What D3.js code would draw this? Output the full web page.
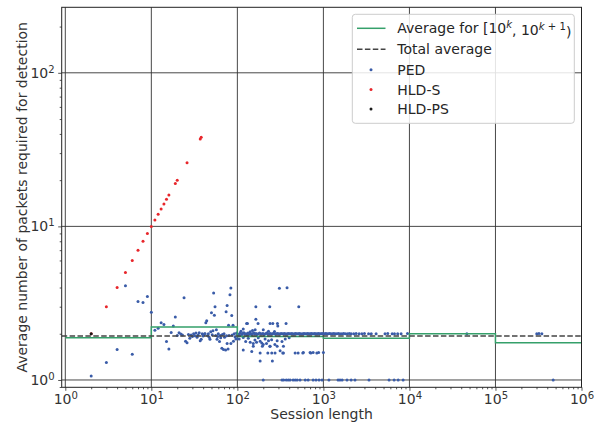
<!DOCTYPE html>
<html>
<head>
<meta charset="utf-8">
<script src="https://cdn.jsdelivr.net/npm/d3@7"></script>
<style>
  body { margin: 0; background: #fff; }
  text { font-family: "DejaVu Sans", sans-serif; }
</style>
</head>
<body>
<div id="chart"></div>
<script>
// averages per decade [10^k, 10^(k+1))
var decadeEdges = [1, 10, 100, 1000, 1e4, 1e5, 1e6];
var decadeAverages = [1.88, 2.21, 1.92, 1.87, 2.0, 1.75];
var totalAverage = 1.93;

var xTicks = [1, 10, 100, 1000, 1e4, 1e5, 1e6];
var yTicks = [1, 10, 100];

var hldsPoints = [[2, 2], [3, 3], [4, 4], [5, 5], [6, 6], [7, 7], [8, 8], [9, 9], [10, 10], [11, 11],
  [12, 12], [13, 13], [14, 14], [15, 15], [16, 16], [19, 19], [20, 20], [26, 26], [37, 37], [38, 38]];

var hldpsPoints = [[2, 2]];

var pedPoints = [
  // short sessions
  [2, 1.06], [3, 1.30], [4, 1.58], [5, 4.11], [6, 1.47], [7, 3.24], [8, 3.2], [9, 3.5], [10, 2.76],
  [11, 2.11], [12, 2.17], [13, 2.36], [14, 2.30], [15, 1.78], [16, 1.59], [17, 2.04], [18, 2.25],
  [19, 2.57], [20, 1.95], [21, 2.03], [22, 1.99], [23, 1.96], [24, 3.43], [25, 1.79], [26, 1.75],
  [27, 1.98], [28, 1.87], [29, 1.96], [30, 1.92], [31, 2.0], [32, 1.94], [33, 2.02], [34, 1.9],
  [35, 1.96], [36, 2.03], [37, 1.8], [38, 1.84], [39, 2.0], [40, 1.93], [41, 1.98], [42, 2.01],
  [43, 2.36], [44, 2.43], [45, 1.95], [46, 2.0], [47, 1.9], [48, 1.84], [49, 2.06], [50, 2.74],
  [51, 1.97], [52, 2.09], [53, 3.69], [54, 2.64], [55, 3.0], [56, 1.95], [57, 2.12], [58, 1.84],
  [59, 1.92], [60, 2.0], [62, 1.78], [63, 1.95], [64, 1.88], [66, 1.61], [67, 1.98], [69, 1.58],
  [70, 2.0], [71, 1.9], [73, 1.57], [74, 2.78], [75, 1.94], [76, 1.73], [76, 3.05], [78, 1.59],
  [79, 2.27], [80, 1.95], [82, 3.59], [84, 3.97], [84, 1.73], [86, 2.63], [87, 1.96], [89, 2.27],
  [90, 1.79], [92, 2.0], [94, 1.91], [96, 1.85], [98, 2.02], [100, 1.86],
  // above the band
  [117, 2.15], [128, 2.33], [131, 2.33], [141, 2.06], [161, 2.12], [164, 3.0], [164, 2.49],
  [174, 2.33], [200, 2.12], [238, 3.0], [240, 2.33], [258, 2.33], [292, 2.33], [295, 2.25],
  [308, 3.95], [368, 2.33], [378, 3.99], [517, 3.0], [110, 2.08], [150, 2.1], [230, 2.08], [270, 2.07],
  // below the band
  [105, 1.85], [117, 1.89], [125, 1.78], [134, 1.87], [141, 1.76], [153, 1.73], [160, 1.82],
  [167, 1.76], [175, 1.88], [184, 1.79], [192, 1.74], [200, 1.70], [210, 1.85], [218, 1.73],
  [230, 1.80], [239, 1.66], [250, 1.83], [273, 1.70], [290, 1.80], [314, 1.55], [330, 1.78],
  [343, 1.5], [360, 1.85], [400, 1.88], [153, 1.66], [195, 1.66], [240, 1.66], [290, 1.66],
  [343, 1.66], [117, 1.57], [147, 1.53], [184, 1.5], [226, 1.5], [251, 1.5], [274, 1.5],
  [337, 1.5], [469, 1.5], [508, 1.5], [576, 1.5], [585, 1.51], [700, 1.51], [713, 1.5],
  [760, 1.51], [838, 1.5], [880, 1.51], [1000, 1.51], [184, 1.33], [255, 1.33],
  // dense band near 2
  [100, 2.0], [104, 1.98], [108, 2.02], [112, 1.97], [115, 2.01], [119, 2.03], [122, 1.99],
  [126, 2.0], [130, 1.96], [133, 2.02], [137, 1.98], [142, 2.01], [146, 1.97], [150, 2.0],
  [155, 2.03], [160, 1.99], [165, 2.01], [170, 1.98], [175, 2.0], [181, 2.02], [187, 1.99],
  [193, 2.0], [199, 2.01], [205, 1.98], [212, 2.0], [219, 2.02], [226, 1.99], [233, 2.0],
  [241, 2.01], [249, 1.99], [257, 2.0], [265, 2.02], [274, 1.99], [283, 2.0], [292, 2.01],
  [302, 2.0], [312, 1.99], [322, 2.01], [333, 2.0], [344, 2.0], [355, 2.01], [367, 1.99],
  [379, 2.0], [391, 2.01], [404, 2.0], [417, 2.0], [431, 2.01], [445, 1.99], [460, 2.0],
  [475, 2.01], [490, 2.0], [506, 2.0], [523, 2.01], [540, 2.0], [558, 1.99], [576, 2.0],
  [595, 2.01], [614, 2.0], [634, 2.0], [655, 2.01], [677, 2.0], [699, 2.0], [722, 2.01],
  [745, 2.0], [770, 2.0], [795, 2.01], [821, 2.0], [848, 2.0], [876, 2.01], [905, 2.0],
  [935, 2.0], [965, 2.01], [997, 2.0], [1030, 2.0], [1065, 2.01], [1100, 2.0], [1140, 2.0],
  [1180, 2.01], [1220, 2.0], [1270, 2.0], [1320, 2.01], [1370, 2.0], [1430, 2.0], [1490, 2.01],
  [1560, 2.0], [1640, 2.0], [1720, 2.01], [1800, 2.0], [1900, 2.0], [2000, 2.01], [2100, 2.0],
  [2250, 2.0], [2400, 2.01], [2600, 2.0], [2800, 2.0], [3000, 2.01], [3350, 2.0], [3600, 2.0],
  [4100, 2.0], [5200, 2.0], [5600, 2.01], [6300, 2.0], [6700, 2.0], [7300, 2.0], [8000, 2.0],
  [9500, 2.01], [46500, 2.0], [302000, 2.0], [320000, 2.01], [346000, 2.0],
  // sessions detected after one packet
  [200, 1], [330, 1], [345, 1], [370, 1], [390, 1], [410, 1], [445, 1], [470, 1], [495, 1],
  [535, 1], [615, 1], [665, 1], [760, 1], [820, 1], [890, 1], [965, 1], [1160, 1], [1480, 1],
  [1560, 1], [1650, 1], [1880, 1], [2100, 1], [2330, 1], [3390, 1], [5800, 1], [6640, 1],
  [7400, 1], [8450, 1], [469000, 1]
];

var W = 603, H = 426;
var pL = 61.7, pR = 581.5, pT = 7.3, pB = 387.3;
var blue = "#3a5ca8", red = "#e8262b", black = "#1a1a1a", green = "#35a06a";
var fs = "14px";
var dotR = 1.5;

var svg = d3.select("#chart").append("svg")
  .attr("width", W)
  .attr("height", H);

var x = d3.scaleLog().domain([0.908, 1e6]).range([pL, pR]);
var y = d3.scaleLog().domain([0.896, 267]).range([pB, pT]);

// grid
svg.append("g").selectAll("line").data(xTicks).enter().append("line")
  .attr("x1", d => x(d)).attr("x2", d => x(d))
  .attr("y1", pT).attr("y2", pB)
  .attr("stroke", "#333").attr("stroke-width", 0.9);
svg.append("g").selectAll("line").data(yTicks).enter().append("line")
  .attr("x1", pL).attr("x2", pR)
  .attr("y1", d => y(d)).attr("y2", d => y(d))
  .attr("stroke", "#333").attr("stroke-width", 0.9);

// clip for data
svg.append("clipPath").attr("id", "plot")
  .append("rect").attr("x", pL).attr("y", pT)
  .attr("width", pR - pL).attr("height", pB - pT);

var plot = svg.append("g").attr("clip-path", "url(#plot)");

function drawDots(data, color) {
  plot.append("g").selectAll("circle").data(data).enter().append("circle")
    .attr("cx", d => x(d[0]))
    .attr("cy", d => y(d[1]))
    .attr("r", dotR)
    .attr("fill", color);
}
drawDots(pedPoints, blue);
drawDots(hldsPoints, red);
drawDots(hldpsPoints, black);

// step line of decade averages
var stepData = decadeEdges.map((e, i) => [e, decadeAverages[Math.min(i, decadeAverages.length - 1)]]);
plot.append("path")
  .datum(stepData)
  .attr("d", d3.line().x(d => x(d[0])).y(d => y(d[1])).curve(d3.curveStepAfter))
  .attr("fill", "none")
  .attr("stroke", green)
  .attr("stroke-width", 1.5);

// total average
plot.append("line")
  .attr("x1", pL).attr("x2", pR)
  .attr("y1", y(totalAverage)).attr("y2", y(totalAverage))
  .attr("stroke", "#444")
  .attr("stroke-width", 1.5)
  .attr("stroke-dasharray", "5.5,2.4");

// superscript labels like 10^k
function powLabel(sel) {
  sel.each(function (d) {
    var t = d3.select(this);
    var k = Math.round(Math.log10(d));
    t.text(null);
    t.append("tspan").text("10");
    t.append("tspan").attr("dy", "-0.5em").attr("font-size", "0.72em").text(k);
  });
}

var minorX = [];
var minorY = [];
[1, 10, 100, 1000, 1e4, 1e5].forEach(b => [2, 3, 4, 5, 6, 7, 8, 9].forEach(m => minorX.push(b * m)));
[0.1, 1, 10, 100].forEach(b => [2, 3, 4, 5, 6, 7, 8, 9].forEach(m => {
  var v = b * m;
  if (v > 0.896 && v < 267) minorY.push(v);
}));

// bottom axis
var xAxis = svg.append("g").attr("transform", "translate(0," + pB + ")")
  .call(d3.axisBottom(x).tickValues(xTicks).tickSize(3.5).tickPadding(3.5));
xAxis.selectAll("text").call(powLabel);
svg.append("g").attr("transform", "translate(0," + pB + ")")
  .call(d3.axisBottom(x).tickValues(minorX).tickSize(2).tickFormat(""));

// left axis
var yAxis = svg.append("g").attr("transform", "translate(" + pL + ",0)")
  .call(d3.axisLeft(y).tickValues(yTicks).tickSize(3.5).tickPadding(3.5));
yAxis.selectAll("text").call(powLabel);
svg.append("g").attr("transform", "translate(" + pL + ",0)")
  .call(d3.axisLeft(y).tickValues(minorY).tickSize(2).tickFormat(""));

svg.selectAll(".domain").remove();
svg.selectAll(".tick line").attr("stroke", "#555");
svg.selectAll(".tick text").attr("fill", "#333").attr("font-size", fs)
  .attr("font-family", "DejaVu Sans, sans-serif");

// spines
svg.append("rect")
  .attr("x", pL).attr("y", pT)
  .attr("width", pR - pL).attr("height", pB - pT)
  .attr("fill", "none").attr("stroke", "#222").attr("stroke-width", 1);

// axis titles
svg.append("text")
  .attr("x", (pL + pR) / 2).attr("y", 419)
  .attr("text-anchor", "middle")
  .attr("font-size", fs).attr("fill", "#333")
  .text("Session length");
svg.append("text")
  .attr("transform", "translate(27," + (pT + pB) / 2 + ") rotate(-90)")
  .attr("text-anchor", "middle")
  .attr("font-size", fs).attr("fill", "#333")
  .text("Average number of packets required for detection");

// legend
var lg = svg.append("g");
lg.append("rect")
  .attr("x", 352.3).attr("y", 14.3)
  .attr("width", 222).attr("height", 109)
  .attr("rx", 3)
  .attr("fill", "#fff").attr("fill-opacity", 0.85)
  .attr("stroke", "#ccc");

var rows = [28.3, 49.3, 69.8, 89.5, 109];
lg.append("line").attr("x1", 357).attr("x2", 385.5).attr("y1", rows[0]).attr("y2", rows[0])
  .attr("stroke", green).attr("stroke-width", 1.5);
lg.append("line").attr("x1", 357).attr("x2", 385.5).attr("y1", rows[1]).attr("y2", rows[1])
  .attr("stroke", "#444").attr("stroke-width", 1.5).attr("stroke-dasharray", "5.5,2.4");
[blue, red, black].forEach((c, i) => {
  lg.append("circle").attr("cx", 371).attr("cy", rows[i + 2]).attr("r", dotR).attr("fill", c);
});

var first = lg.append("text").attr("x", 397.3).attr("y", rows[0] + 5)
  .attr("font-size", fs).attr("fill", "#262626");
first.append("tspan").text("Average for [10");
first.append("tspan").attr("dy", "-0.5em").attr("font-size", "0.72em").attr("font-style", "italic").text("k");
first.append("tspan").attr("dy", "0.5em").text(", 10");
var s2 = first.append("tspan").attr("dy", "-0.5em").attr("font-size", "0.72em");
s2.append("tspan").attr("font-style", "italic").text("k");
s2.append("tspan").text(" + 1");
first.append("tspan").attr("dy", "0.5em").text(")");

["Total average", "PED", "HLD-S", "HLD-PS"].forEach((label, i) => {
  lg.append("text").attr("x", 397.3).attr("y", rows[i + 1] + 5)
    .attr("font-size", fs).attr("fill", "#262626")
    .text(label);
});
</script>
</body>
</html>
